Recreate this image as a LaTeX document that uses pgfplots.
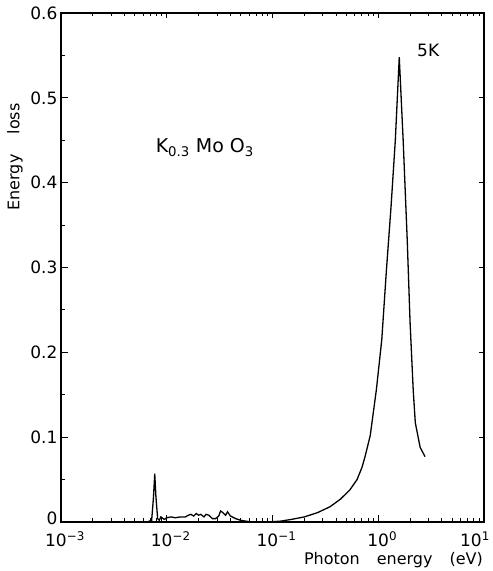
\documentclass[border=0pt]{standalone}
\usepackage{fontspec}
\setmainfont{DejaVu Sans}
\usepackage{pgfplots}
\pgfplotsset{compat=1.18}

\pgfplotstableread{
x y
0.0065 0.000
0.0072 0.002
0.0075 0.030
0.0077 0.057
0.0079 0.030
0.0082 0.004
0.0085 0.002
0.0088 0.006
0.0095 0.003
0.0100 0.005
0.0110 0.006
0.0120 0.005
0.0135 0.006
0.0150 0.006
0.0160 0.008
0.0169 0.009
0.0180 0.007
0.0190 0.010
0.0200 0.008
0.0210 0.009
0.0225 0.006
0.0235 0.009
0.0250 0.008
0.0270 0.004
0.0290 0.004
0.0310 0.007
0.0323 0.013
0.0340 0.011
0.0360 0.008
0.0376 0.012
0.0400 0.007
0.0447 0.004
0.0500 0.002
0.0560 0.001
0.0650 0.000
0.0900 0.000
0.1190 0.001
0.1500 0.003
0.2000 0.006
0.2660 0.011
0.3500 0.018
0.4400 0.027
0.5400 0.038
0.6300 0.050
0.7000 0.064
0.7500 0.077
0.8400 0.102
0.9600 0.156
1.0800 0.215
1.1900 0.294
1.3200 0.371
1.4500 0.450
1.5800 0.548
1.7200 0.450
1.8800 0.332
2.0000 0.235
2.1400 0.156
2.2400 0.117
2.4900 0.088
2.7700 0.077
}\lossdata

\begin{document}
\begin{tikzpicture}
% main axis: labels, minor ticks on bottom/left
\begin{axis}[name=ax,
  scale only axis, width=423pt, height=509pt,
  xmode=log, xmin=0.001, xmax=10, ymin=0, ymax=0.6,
  axis line style={line width=1.5pt},
  major tick length=7pt, minor tick length=4pt,
  every tick/.style={black, line width=1pt},
  tick label style={font=\fontsize{17}{19}\selectfont},
  xticklabel style={xshift=4pt, yshift=-6pt},
  xtick={0.001,0.01,0.1,1,10},
  ytick={0,0.1,0.2,0.3,0.4,0.5,0.6},
  xtick pos=left, ytick pos=left,
  minor xtick={0.002,0.003,0.004,0.005,0.006,0.007,0.008,0.009,
    0.02,0.03,0.04,0.05,0.06,0.07,0.08,0.09,
    0.2,0.3,0.4,0.5,0.6,0.7,0.8,0.9,
    2,3,4,5,6,7,8,9},
  minor ytick={0.05,0.15,0.25,0.35,0.45,0.55},
  xticklabels={10\textsuperscript{−3},10\textsuperscript{−2},10\textsuperscript{−1},10\textsuperscript{0},
    \makebox[0pt]{\hspace*{-26pt}10\textsuperscript{1}}},
  yticklabels={\raisebox{7pt}{0},0.1,0.2,0.3,0.4,0.5,\raisebox{-7pt}{0.6}},
]
\addplot[black, line width=1.3pt, mark=none] table[x=x, y=y] {\lossdata};
\node[font=\fontsize{19}{22}\selectfont] at (axis description cs:0.34,0.735)
  {K\textsubscript{0.3} Mo O\textsubscript{3}};
\node[font=\fontsize{17}{20}\selectfont] at (axis description cs:0.868,0.927) {5K};
\end{axis}
% overlay axis: major ticks only on top/right
\begin{axis}[
  scale only axis, width=423pt, height=509pt,
  xmode=log, xmin=0.001, xmax=10, ymin=0, ymax=0.6,
  axis line style={line width=1.5pt},
  major tick length=5pt,
  every tick/.style={black, line width=1pt},
  xtick={0.001,0.01,0.1,1,10},
  ytick={0,0.1,0.2,0.3,0.4,0.5,0.6},
  xtick pos=right, ytick pos=right,
  xticklabels={}, yticklabels={},
]
\end{axis}
% axis titles
\node[font=\fontsize{16}{18}\selectfont, anchor=east, inner sep=0pt]
  at ([xshift=-1pt, yshift=-38pt]ax.south east) {Photon\hspace{17pt}energy\hspace{17pt}(eV)};
\node[font=\fontsize{16}{18}\selectfont, rotate=90, inner sep=0pt]
  at ([xshift=-46pt, yshift=365pt]ax.south west) {Energy\hspace{20pt}loss};
\pgfresetboundingbox
\path ([xshift=-61pt, yshift=-49pt]ax.south west) rectangle ([xshift=8pt, yshift=13pt]ax.north east);
\end{tikzpicture}
\end{document}
